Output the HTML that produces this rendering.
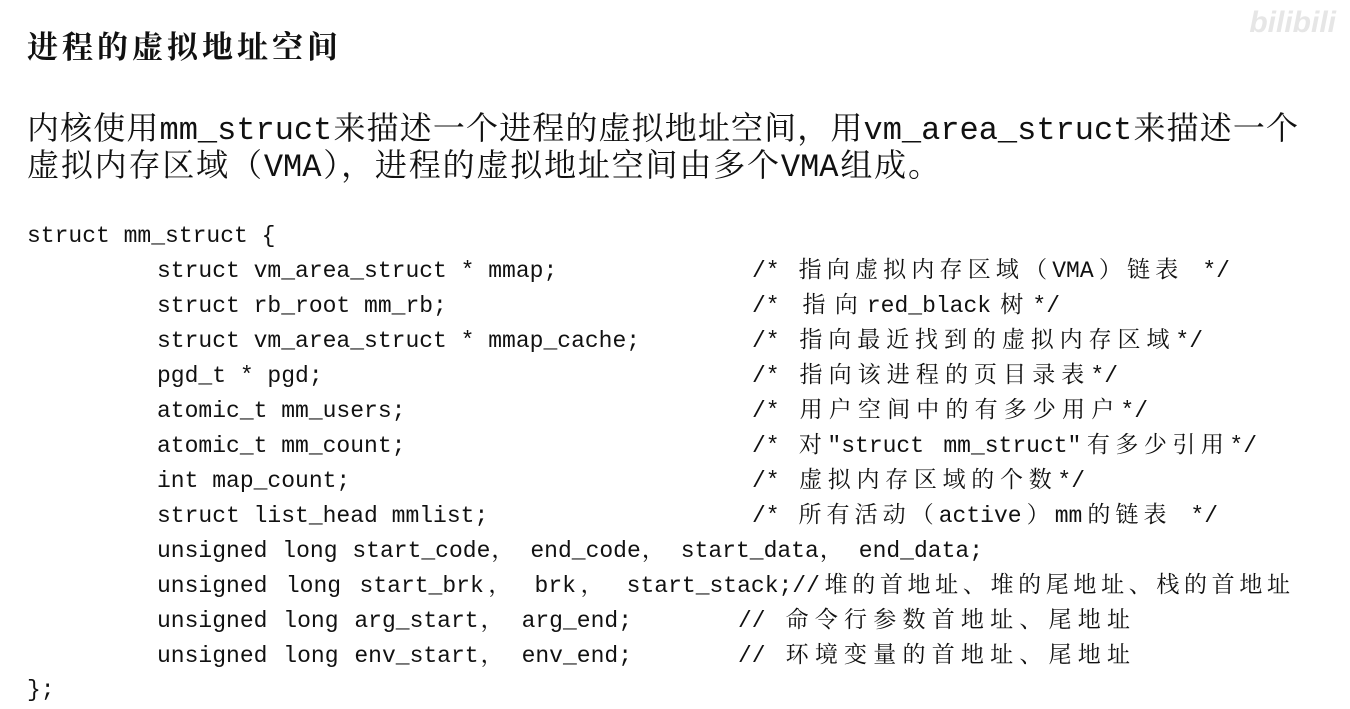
<!DOCTYPE html>
<html><head><meta charset="utf-8"><style>
body{margin:0;width:1350px;height:709px;background:#fff;overflow:hidden;position:relative;color:#111}
.t{position:absolute;white-space:nowrap;font-family:"Liberation Mono","Noto Serif CJK SC",monospace;}
.j{text-align:justify;text-align-last:justify;text-justify:inter-character;white-space:normal}
.title{left:27px;top:22px;font-size:31px;letter-spacing:4px;font-family:"Liberation Serif","Noto Serif CJK SC",serif;font-weight:bold}
.p{left:27px;font-size:32px;line-height:36px}
.c{font-size:23px;line-height:30px}
.logo{position:absolute;right:14px;top:6px;font:bold 30px "Liberation Sans",sans-serif;color:#e6e6e6;font-style:italic}
</style></head><body>
<div class="logo">bilibili</div>
<div class="t title">进程的虚拟地址空间</div>
<div class="t p j" style="top:113px;width:1271px">内核使用mm_struct来描述一个进程的虚拟地址空间，用vm_area_struct来描述一个</div>
<div class="t p j" style="top:150px;width:913px">虚拟内存区域（VMA），进程的虚拟地址空间由多个VMA组成。</div>
<div class="t c" style="left:27px;top:221px">struct mm_struct {</div>
<div class="t c" style="left:157px;top:256px">struct vm_area_struct * mmap;</div><div class="t c j" style="left:752px;top:256px;width:478px">/* 指向虚拟内存区域（VMA）链表 */</div>
<div class="t c" style="left:157px;top:291px">struct rb_root mm_rb;</div><div class="t c j" style="left:752px;top:291px;width:308px">/* 指向red_black树*/</div>
<div class="t c" style="left:157px;top:326px">struct vm_area_struct * mmap_cache;</div><div class="t c j" style="left:752px;top:326px;width:451px">/* 指向最近找到的虚拟内存区域*/</div>
<div class="t c" style="left:157px;top:361px">pgd_t * pgd;</div><div class="t c j" style="left:752px;top:361px;width:366px">/* 指向该进程的页目录表*/</div>
<div class="t c" style="left:157px;top:396px">atomic_t mm_users;</div><div class="t c j" style="left:752px;top:396px;width:396px">/* 用户空间中的有多少用户*/</div>
<div class="t c" style="left:157px;top:431px">atomic_t mm_count;</div><div class="t c j" style="left:752px;top:431px;width:505px">/* 对"struct mm_struct"有多少引用*/</div>
<div class="t c" style="left:157px;top:466px">int map_count;</div><div class="t c j" style="left:752px;top:466px;width:333px">/* 虚拟内存区域的个数*/</div>
<div class="t c" style="left:157px;top:501px">struct list_head mmlist;</div><div class="t c j" style="left:752px;top:501px;width:466px">/* 所有活动（active）mm的链表 */</div>
<div class="t c j" style="left:157px;top:536px;width:826px">unsigned long start_code， end_code， start_data， end_data;</div>
<div class="t c j" style="left:157px;top:571px;width:1133px">unsigned long start_brk， brk， start_stack;//堆的首地址、堆的尾地址、栈的首地址</div>
<div class="t c j" style="left:157px;top:606px;width:475px">unsigned long arg_start， arg_end;</div><div class="t c j" style="left:738px;top:606px;width:392px">// 命令行参数首地址、尾地址</div>
<div class="t c j" style="left:157px;top:641px;width:475px">unsigned long env_start， env_end;</div><div class="t c j" style="left:738px;top:641px;width:392px">// 环境变量的首地址、尾地址</div>
<div class="t c" style="left:27px;top:675px">};</div>
</body></html>
